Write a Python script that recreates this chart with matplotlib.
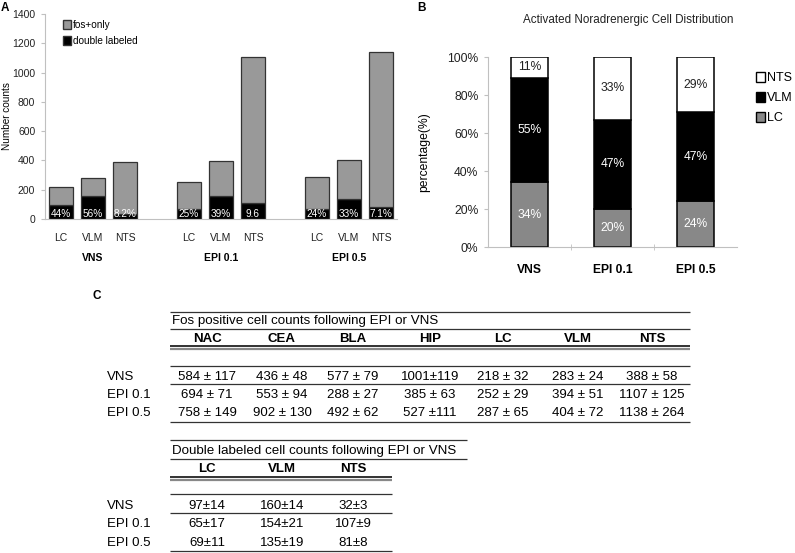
import matplotlib
matplotlib.use("Agg")
import matplotlib.pyplot as plt
import numpy as np
from matplotlib.patches import Patch

plt.rcParams['font.family'] = ['Liberation Sans', 'DejaVu Sans']

# ---- data ----
conditions = ['VNS', 'EPI 0.1', 'EPI 0.5']
regions = ['LC', 'VLM', 'NTS']
fos_total = [[218, 283, 388], [252, 394, 1107], [287, 404, 1138]]
double_labeled = [[97, 160, 32], [65, 154, 107], [69, 135, 81]]
pct_labels = [['44%', '56%', '8.2%'], ['25%', '39%', '9.6'], ['24%', '33%', '7.1%']]

dist_lc = [34, 20, 24]
dist_vlm = [55, 47, 47]
dist_nts = [11, 33, 29]

fos_cols = ['NAC', 'CEA', 'BLA', 'HIP', 'LC', 'VLM', 'NTS']
fos_rows = [
    ['584 ± 117', '436 ± 48', '577 ± 79', '1001±119', '218 ± 32', '283 ± 24', '388 ± 58'],
    ['694 ± 71', '553 ± 94', '288 ± 27', '385 ± 63', '252 ± 29', '394 ± 51', '1107 ± 125'],
    ['758 ± 149', '902 ± 130', '492 ± 62', '527 ±111', '287 ± 65', '404 ± 72', '1138 ± 264'],
]
dbl_cols = ['LC', 'VLM', 'NTS']
dbl_rows = [
    ['97±14', '160±14', '32±3'],
    ['65±17', '154±21', '107±9'],
    ['69±11', '135±19', '81±8'],
]

W, H = 795, 553
fig = plt.figure(figsize=(W / 100, H / 100), dpi=100)


def box(l, t, r, b):
    return [l / W, 1 - b / H, (r - l) / W, (b - t) / H]


light = '#c0c0c0'
fsA = 7.5
fsB = 8.7

# ---- panel A ----
axA = fig.add_axes(box(45, 14, 397, 219))
pos = np.array([[g * 4 + i for i in range(3)] for g in range(3)], dtype=float)
tot = np.array(fos_total)
dbl = np.array(double_labeled)
axA.bar(pos.ravel(), dbl.ravel(), width=0.78, color='black', edgecolor='#333333', linewidth=0.9)
axA.bar(pos.ravel(), (tot - dbl).ravel(), bottom=dbl.ravel(), width=0.78,
        color='#999999', edgecolor='#333333', linewidth=0.9)
for x, s in zip(pos.ravel(), np.array(pct_labels).ravel()):
    axA.text(x, 2, s, color='white', ha='center', va='bottom', fontsize=7.2)
axA.set_xlim(-0.5, 10.5)
axA.set_ylim(0, 1400)
axA.set_yticks(np.arange(0, 1401, 200))
axA.set_xticks(pos.ravel())
axA.set_xticklabels(regions * 3)
axA.tick_params(axis='x', length=0, pad=10, labelsize=fsA, labelcolor='#222222')
axA.tick_params(axis='y', length=3, color=light, labelsize=fsA, labelcolor='#222222', pad=4)
for g, c in enumerate(conditions):
    axA.text(pos[g, 1], -0.19, c, transform=axA.get_xaxis_transform(),
             ha='center', va='center', fontsize=fsA, fontweight='bold')
for s in ['top', 'right']:
    axA.spines[s].set_visible(False)
for s in ['left', 'bottom']:
    axA.spines[s].set_color(light)
axA.set_ylabel('Number counts', fontsize=7.2)
axA.yaxis.set_label_coords(-0.094, 0.5)
axA.legend(handles=[Patch(facecolor='#999999', edgecolor='#333333', label='fos+only'),
                    Patch(facecolor='black', edgecolor='#333333', label='double labeled')],
           loc='upper left', bbox_to_anchor=(0.04, 0.99), frameon=False, fontsize=7.2,
           handlelength=0.8, handleheight=0.9, handletextpad=0.2, labelspacing=0.6,
           borderaxespad=0)

# ---- panel B ----
axB = fig.add_axes(box(488, 57, 737, 247))
xb = np.arange(3)
lc = np.array(dist_lc)
vlm = np.array(dist_vlm)
nts = np.array(dist_nts)
bw = 0.45
axB.bar(xb, lc, width=bw, color='#888888', edgecolor='black', linewidth=1.1)
axB.bar(xb, vlm, bottom=lc, width=bw, color='black', edgecolor='black', linewidth=1.1)
axB.bar(xb, nts, bottom=lc + vlm, width=bw, color='white', edgecolor='black', linewidth=1.1)
for i in range(3):
    axB.text(xb[i], lc[i] / 2, f'{lc[i]}%', color='white', ha='center', va='center', fontsize=fsB)
    axB.text(xb[i], lc[i] + vlm[i] / 2, f'{vlm[i]}%', color='white', ha='center', va='center',
             fontsize=fsB)
    axB.text(xb[i], lc[i] + vlm[i] + nts[i] / 2, f'{nts[i]}%', color='#222222', ha='center',
             va='center', fontsize=fsB)
axB.set_xlim(-0.5, 2.5)
axB.set_ylim(0, 100)
axB.set_yticks(np.arange(0, 101, 20))
axB.set_yticklabels([f'{v}%' for v in range(0, 101, 20)])
axB.set_xticks(xb)
axB.set_xticklabels(conditions, fontweight='bold')
axB.set_xticks([0.5, 1.5], minor=True)
axB.tick_params(axis='x', which='major', length=0, pad=12, labelsize=fsB)
axB.tick_params(axis='x', which='minor', length=4, direction='inout', color=light)
axB.tick_params(axis='y', length=3, color=light, labelsize=fsB, labelcolor='#222222', pad=4)
for s in ['top', 'right']:
    axB.spines[s].set_visible(False)
for s in ['left', 'bottom']:
    axB.spines[s].set_color(light)
axB.set_ylabel('percentage(%)', fontsize=fsB)
axB.yaxis.set_label_coords(-0.233, 0.5)
fig.legend(handles=[Patch(facecolor='white', edgecolor='black', label='NTS'),
                    Patch(facecolor='black', edgecolor='black', label='VLM'),
                    Patch(facecolor='#888888', edgecolor='black', label='LC')],
           loc='upper left', bbox_to_anchor=(751 / W, 1 - 67 / H), frameon=False, fontsize=9,
           handlelength=0.75, handleheight=0.85, handletextpad=0.15, labelspacing=0.6,
           borderaxespad=0)
fig.text(628 / W, 1 - 20 / H, 'Activated Noradrenergic Cell Distribution', ha='center',
         va='center', fontsize=8.4, color='#222222')

# ---- panel labels ----
for lab, x, y in [('A', 5, 8), ('B', 421, 8), ('C', 97, 296)]:
    fig.text(x / W, 1 - y / H, lab, ha='center', va='center', fontsize=8.5, fontweight='bold')

# ---- panel C tables (pixel coordinates overlay) ----
axC = fig.add_axes([0, 0, 1, 1])
axC.set_xlim(0, W)
axC.set_ylim(H, 0)
axC.axis('off')
lc_ = '#333333'


def hline(y, x0, x1, lw=0.9, color=lc_):
    axC.plot([x0, x1], [y, y], color=color, lw=lw, solid_capstyle='butt')


def dline(y, x0, x1):
    hline(y, x0, x1, lw=1.3, color='#222222')
    hline(y + 2.5, x0, x1, lw=1.6, color='#888888')


fs = 9.5
fs_title = 9.6
row_x = 107
# table 1
t1_cx = [207, 282, 353, 430, 503, 578, 652]
hline(312, 170, 690)
axC.text(172, 321, 'Fos positive cell counts following EPI or VNS', fontsize=fs_title, va='center')
hline(329, 170, 690)
for cx, c in zip(t1_cx, fos_cols):
    axC.text(cx, 339, c, fontsize=fs, fontweight='bold', ha='center', va='center')
dline(346, 170, 690)
hline(366, 170, 690)
t1_ry = [377, 395, 413]
for ry, cond, vals in zip(t1_ry, conditions, fos_rows):
    axC.text(row_x, ry, cond, fontsize=fs, va='center')
    for cx, v in zip(t1_cx, vals):
        axC.text(cx, ry, v, fontsize=fs, ha='center', va='center')
hline(384, 170, 690)
hline(422, 170, 690)

# table 2
t2_cx = [207, 282, 353]
hline(440, 170, 467)
axC.text(172, 451, 'Double labeled cell counts following EPI or VNS', fontsize=fs_title,
         va='center')
hline(459, 170, 467)
for cx, c in zip(t2_cx, dbl_cols):
    axC.text(cx, 469, c, fontsize=fs, fontweight='bold', ha='center', va='center')
dline(477, 170, 392)
hline(494, 170, 392)
t2_ry = [506, 524, 543]
for ry, cond, vals in zip(t2_ry, conditions, dbl_rows):
    axC.text(row_x, ry, cond, fontsize=fs, va='center')
    for cx, v in zip(t2_cx, vals):
        axC.text(cx, ry, v, fontsize=fs, ha='center', va='center')
hline(513, 170, 392)
hline(551, 170, 392)

fig.savefig('out.png', dpi=100)
